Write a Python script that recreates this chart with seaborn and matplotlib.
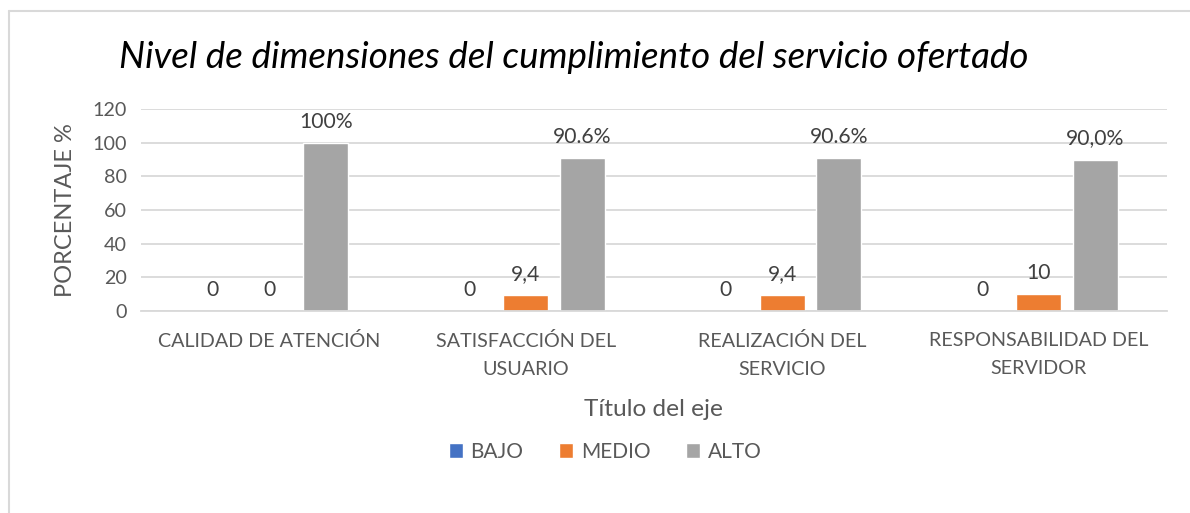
import matplotlib
matplotlib.use("Agg")
import matplotlib.pyplot as plt
import seaborn as sns
import pandas as pd
from matplotlib.lines import Line2D

categories = ["CALIDAD DE ATENCIÓN", "SATISFACCIÓN DEL\nUSUARIO",
              "REALIZACIÓN DEL\nSERVICIO", "RESPONSABILIDAD DEL\nSERVIDOR"]
series_names = ["BAJO", "MEDIO", "ALTO"]
bajo = [0, 0, 0, 0]
medio = [0, 9.4, 9.4, 10]
alto = [100, 90.6, 90.6, 90.0]
bajo_labels = ["0", "0", "0", "0"]
medio_labels = ["0", "9,4", "9,4", "10"]
alto_labels = ["100%", "90.6%", "90.6%", "90,0%"]
yticks = [0, 20, 40, 60, 80, 100, 120]
colors = ["#4472C4", "#ED7D31", "#A5A5A5"]

rows = []
for name, vals, labs in zip(series_names, [bajo, medio, alto],
                            [bajo_labels, medio_labels, alto_labels]):
    for c, v, l in zip(categories, vals, labs):
        rows.append({"cat": c, "serie": name, "val": v, "lab": l})
df = pd.DataFrame(rows)

sns.set_theme(style="white")
plt.rcParams["font.family"] = ["Lato", "DejaVu Sans"]

fig = plt.figure(figsize=(11.9, 5.13), dpi=100)
ax = fig.add_axes([141 / 1190, 1 - 311 / 513, (1167 - 141) / 1190, 202 / 513])

sns.barplot(data=df, x="cat", y="val", hue="serie", order=categories,
            hue_order=series_names, palette=colors, width=0.66, gap=0.2,
            saturation=1, ax=ax, legend=True)

ax.set_ylim(0, 120)
ax.set_yticks(yticks)
ax.set_xlim(-0.5, len(categories) - 0.5)
ax.yaxis.grid(True, color="#D9D9D9", linewidth=1.3)
ax.set_axisbelow(True)
for s in ["top", "right", "left"]:
    ax.spines[s].set_visible(False)
ax.spines["bottom"].set_color("#D9D9D9")
ax.spines["bottom"].set_linewidth(1.3)
ax.tick_params(axis="both", length=0, labelsize=14.2, colors="#595959")
ax.tick_params(axis="x", pad=15)
ax.tick_params(axis="y", pad=10)
for t in ax.get_xticklabels():
    t.set_horizontalalignment("center")
    t.set_linespacing(1.8)

ax.set_ylabel("PORCENTAJE %", fontsize=17, color="#595959", labelpad=12)
ax.set_xlabel("Título del eje", fontsize=17.6, color="#595959", labelpad=15)

# value labels
for container, name in zip(ax.containers, series_names):
    labs = df[df["serie"] == name]["lab"].tolist()
    ax.bar_label(container, labels=labs, padding=8, fontsize=15.2, color="#404040")

fig.suptitle("Nivel de dimensiones del cumplimiento del servicio ofertado",
             x=573.5 / 1190, y=1 - 58 / 513, va="center", fontsize=26.5,
             style="italic", color="#000000")

leg = ax.get_legend()
handles = leg.legend_handles
leg.remove()
fig.legend(handles=handles, labels=series_names, loc="center",
           bbox_to_anchor=(605 / 1190, 1 - 452 / 513), ncol=3, frameon=False,
           fontsize=15, handlelength=0.7, handleheight=0.7,
           handletextpad=0.35, columnspacing=1.7, labelcolor="#595959")

fig.add_artist(Line2D([8.5 / 1190, 8.5 / 1190], [0, 1 - 10.5 / 513],
                      color="#D9D9D9", linewidth=1.5, transform=fig.transFigure))
fig.add_artist(Line2D([8.5 / 1190, 1], [1 - 10.5 / 513, 1 - 10.5 / 513],
                      color="#D9D9D9", linewidth=1.5, transform=fig.transFigure))

fig.savefig("out.png", dpi=100)
